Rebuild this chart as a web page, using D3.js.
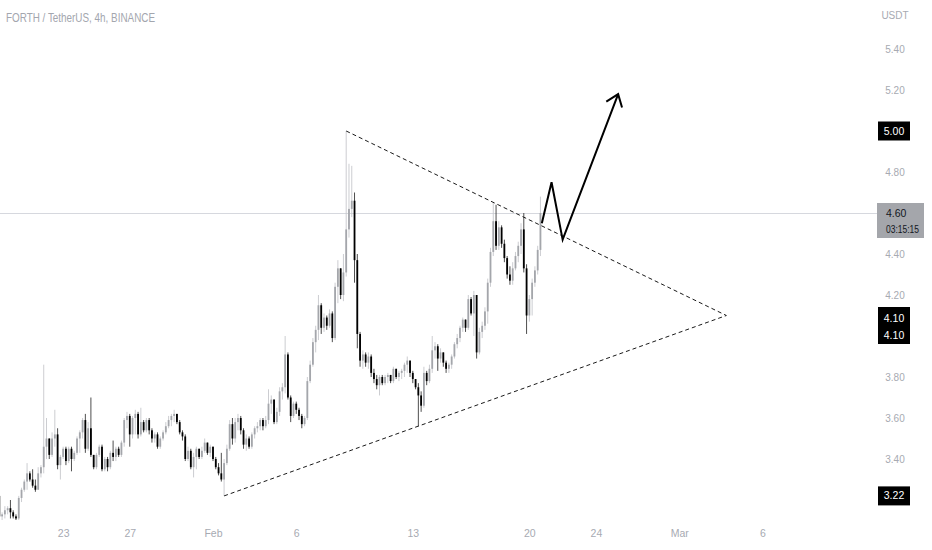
<!DOCTYPE html>
<html>
<head>
<meta charset="utf-8">
<title>FORTH / TetherUS, 4h</title>
<script src="https://cdn.jsdelivr.net/npm/d3@7"></script>
<style>
    html, body { margin: 0; padding: 0; background: #ffffff; }
    svg { display: block; font-family: "Liberation Sans", Arial, sans-serif; }
</style>
</head>
<body>
<svg id="chart" width="932" height="550"></svg>
<script>

// 4h candles, first one opens Jan 19 04:00 UTC, open = previous close
var t0 = Date.UTC(2023, 0, 19, 4);
var step = 4 * 3600 * 1000;
var firstOpen = 3.22;

var closes = [
    3.12, 3.13, 3.15, 3.16, 3.14, 3.12, 3.11, 3.21, 3.25, 3.29,
    3.33, 3.30, 3.27, 3.25, 3.33, 3.36, 3.46, 3.50, 3.42, 3.50,
    3.52, 3.37, 3.41, 3.45, 3.39, 3.45, 3.40, 3.43, 3.50, 3.53,
    3.59, 3.45, 3.55, 3.42, 3.36, 3.42, 3.46, 3.35, 3.40, 3.36,
    3.43, 3.41, 3.45, 3.42, 3.48, 3.59, 3.61, 3.52, 3.60, 3.62,
    3.52, 3.58, 3.54, 3.59, 3.54, 3.50, 3.52, 3.46, 3.50, 3.53,
    3.56, 3.59, 3.61, 3.62, 3.58, 3.53, 3.51, 3.40, 3.44, 3.36,
    3.41, 3.45, 3.41, 3.44, 3.48, 3.43, 3.46, 3.40, 3.36, 3.33,
    3.30, 3.38, 3.45, 3.57, 3.50, 3.58, 3.60, 3.54, 3.47, 3.50,
    3.46, 3.52, 3.55, 3.56, 3.59, 3.56, 3.59, 3.67, 3.69, 3.58,
    3.63, 3.73, 3.75, 3.91, 3.70, 3.61, 3.67, 3.64, 3.61, 3.57,
    3.60, 3.78, 3.86, 3.97, 4.03, 4.15, 4.04, 4.09, 4.05, 4.11,
    3.99, 4.24, 4.33, 4.20, 4.31, 4.52, 4.62, 4.66, 4.37, 4.01,
    3.88, 3.91, 3.87, 3.90, 3.82, 3.79, 3.76, 3.80, 3.77, 3.80,
    3.81, 3.78, 3.84, 3.80, 3.82, 3.83, 3.86, 3.88, 3.82, 3.79,
    3.75, 3.71, 3.66, 3.82, 3.78, 3.84, 3.93, 3.95, 3.89, 3.92,
    3.87, 3.84, 3.86, 3.90, 3.96, 3.99, 4.04, 4.08, 4.04, 4.18,
    4.11, 4.20, 3.92, 4.02, 4.05, 4.12, 4.26, 4.41, 4.56, 4.44,
    4.53, 4.45, 4.38, 4.30, 4.27, 4.33, 4.39, 4.44, 4.52, 4.33,
    4.10, 4.18, 4.26, 4.32, 4.42, 4.60
];

var highs = [
    3.23, 3.14, 3.17, 3.17, 3.20, 3.15, 3.13, 3.22, 3.26, 3.30,
    3.38, 3.34, 3.35, 3.30, 3.36, 3.37, 3.86, 3.60, 3.50, 3.53,
    3.64, 3.55, 3.42, 3.46, 3.46, 3.46, 3.46, 3.44, 3.51, 3.54,
    3.60, 3.62, 3.58, 3.70, 3.42, 3.43, 3.47, 3.47, 3.41, 3.41,
    3.44, 3.49, 3.46, 3.46, 3.49, 3.60, 3.63, 3.62, 3.61, 3.64,
    3.63, 3.65, 3.59, 3.60, 3.60, 3.55, 3.53, 3.53, 3.51, 3.54,
    3.58, 3.61, 3.62, 3.64, 3.62, 3.59, 3.54, 3.52, 3.46, 3.45,
    3.43, 3.46, 3.45, 3.46, 3.50, 3.48, 3.47, 3.46, 3.41, 3.38,
    3.43, 3.40, 3.47, 3.59, 3.60, 3.60, 3.62, 3.61, 3.55, 3.52,
    3.51, 3.53, 3.56, 3.58, 3.60, 3.60, 3.61, 3.74, 3.71, 3.69,
    3.65, 3.75, 3.77, 4.00, 3.92, 3.71, 3.68, 3.68, 3.65, 3.62,
    3.61, 3.80, 3.88, 3.99, 4.05, 4.20, 4.16, 4.11, 4.10, 4.13,
    4.12, 4.26, 4.37, 4.33, 4.40, 5.00, 4.84, 4.83, 4.70, 4.40,
    4.02, 3.93, 3.92, 3.92, 3.91, 3.84, 3.81, 3.81, 3.81, 3.81,
    3.82, 3.81, 3.85, 3.84, 3.83, 3.84, 3.87, 3.90, 3.88, 3.83,
    3.79, 3.77, 3.73, 3.85, 3.83, 3.86, 4.00, 3.97, 3.96, 3.94,
    3.92, 3.88, 3.87, 3.91, 3.97, 4.01, 4.05, 4.09, 4.08, 4.20,
    4.19, 4.22, 4.20, 4.04, 4.07, 4.14, 4.28, 4.43, 4.65, 4.64,
    4.56, 4.54, 4.47, 4.39, 4.34, 4.36, 4.41, 4.46, 4.55, 4.60,
    4.35, 4.20, 4.28, 4.34, 4.44, 4.68
];

var lows = [
    3.10, 3.10, 3.11, 3.13, 3.11, 3.11, 3.10, 3.10, 3.19, 3.24,
    3.25, 3.29, 3.26, 3.24, 3.25, 3.31, 3.33, 3.40, 3.40, 3.41,
    3.46, 3.35, 3.30, 3.40, 3.37, 3.38, 3.34, 3.39, 3.42, 3.43,
    3.50, 3.43, 3.44, 3.41, 3.35, 3.35, 3.41, 3.34, 3.34, 3.34,
    3.35, 3.39, 3.39, 3.41, 3.41, 3.46, 3.55, 3.46, 3.50, 3.52,
    3.50, 3.51, 3.53, 3.53, 3.52, 3.48, 3.48, 3.45, 3.45, 3.49,
    3.52, 3.55, 3.56, 3.58, 3.57, 3.52, 3.49, 3.39, 3.39, 3.35,
    3.31, 3.35, 3.40, 3.40, 3.43, 3.42, 3.41, 3.39, 3.35, 3.32,
    3.29, 3.22, 3.37, 3.44, 3.47, 3.48, 3.54, 3.52, 3.45, 3.44,
    3.45, 3.45, 3.50, 3.53, 3.54, 3.54, 3.55, 3.57, 3.62, 3.57,
    3.57, 3.61, 3.69, 3.72, 3.69, 3.58, 3.60, 3.62, 3.59, 3.55,
    3.56, 3.59, 3.77, 3.85, 3.92, 3.98, 4.01, 4.02, 4.03, 4.04,
    3.97, 3.98, 4.16, 4.18, 4.17, 4.29, 4.48, 4.58, 4.26, 3.94,
    3.85, 3.84, 3.85, 3.84, 3.80, 3.77, 3.74, 3.71, 3.76, 3.76,
    3.77, 3.77, 3.77, 3.79, 3.78, 3.79, 3.80, 3.82, 3.80, 3.77,
    3.74, 3.56, 3.63, 3.65, 3.76, 3.77, 3.82, 3.89, 3.83, 3.87,
    3.85, 3.82, 3.82, 3.84, 3.89, 3.94, 3.97, 4.02, 4.02, 4.03,
    4.10, 4.00, 3.89, 3.91, 3.99, 4.03, 4.06, 4.24, 4.39, 4.42,
    4.42, 4.43, 4.36, 4.28, 4.25, 4.25, 4.32, 4.36, 4.40, 4.31,
    4.01, 4.07, 4.10, 4.24, 4.30, 4.39
];

// only the scale ticks that are not covered by a price label
var priceTicks = [3.40, 3.60, 3.80, 4.20, 4.40, 4.80, 5.20, 5.40];
var dateTicks = [
    Date.UTC(2023, 0, 23), Date.UTC(2023, 0, 27), Date.UTC(2023, 1, 1),
    Date.UTC(2023, 1, 6), Date.UTC(2023, 1, 13), Date.UTC(2023, 1, 20),
    Date.UTC(2023, 1, 24), Date.UTC(2023, 2, 1), Date.UTC(2023, 2, 6)
];
var monthNames = ["Jan", "Feb", "Mar"];

// drawings
var apexTime = Date.UTC(2023, 2, 3, 20);
var upperTrend = [{ t: t0 + 125 * step, p: 5.00 }, { t: apexTime, p: 4.10 }];
var lowerTrend = [{ t: t0 + 81 * step, p: 3.22 }, { t: apexTime, p: 4.10 }];
var projection = [
    { t: Date.UTC(2023, 1, 20, 18), p: 4.55 },
    { t: Date.UTC(2023, 1, 21, 8), p: 4.75 },
    { t: Date.UTC(2023, 1, 22, 0), p: 4.47 },
    { t: Date.UTC(2023, 1, 25, 8), p: 5.18 }
];

var lastPrice = 4.60;
var countdown = "03:15:15";
var markerLabels = [5.00, 3.22];
var apexLabels = [4.10, 4.10];

var candles = closes.map(function(c, i) {
    return {
        t: t0 + i * step,
        o: i === 0 ? firstOpen : closes[i - 1],
        h: highs[i],
        l: lows[i],
        c: c
    };
});

var plotRight = 877;

var svg = d3.select("#chart");

var xScale = d3.scaleUtc()
    .domain([Date.UTC(2023, 0, 19), Date.UTC(2023, 2, 8)])
    .range([-3.45, 795.75]);

var yScale = d3.scaleLinear()
    .domain([3.0, 5.6])
    .range([541, 8]);

svg.append("defs").append("clipPath")
    .attr("id", "plotClip")
    .append("rect")
    .attr("x", 0).attr("y", 0)
    .attr("width", plotRight).attr("height", 520);

var plot = svg.append("g").attr("clip-path", "url(#plotClip)");

// last price line
plot.append("line")
    .attr("x1", 0)
    .attr("x2", plotRight)
    .attr("y1", Math.round(yScale(lastPrice)) + 0.5)
    .attr("y2", Math.round(yScale(lastPrice)) + 0.5)
    .attr("stroke", "#d6d8de")
    .attr("stroke-width", 1);

var bodyW = 1.8;

var candleG = plot.append("g").attr("class", "candles");

candleG.selectAll("line.wick")
    .data(candles)
    .join("line")
    .attr("class", "wick")
    .attr("x1", function(d) { return xScale(d.t); })
    .attr("x2", function(d) { return xScale(d.t); })
    .attr("y1", function(d) { return yScale(d.h); })
    .attr("y2", function(d) { return yScale(d.l); })
    .attr("stroke", function(d) { return d.c >= d.o ? "#c6c7cc" : "#3a3a3a"; })
    .attr("stroke-width", 0.9);

candleG.selectAll("rect.body")
    .data(candles)
    .join("rect")
    .attr("class", "body")
    .attr("x", function(d) { return xScale(d.t) - bodyW / 2; })
    .attr("y", function(d) { return yScale(Math.max(d.o, d.c)); })
    .attr("width", bodyW)
    .attr("height", function(d) {
        return Math.max(1, Math.abs(yScale(d.o) - yScale(d.c)));
    })
    .attr("fill", function(d) { return d.c >= d.o ? "#a4a6ab" : "#000000"; });

// triangle
var trendLine = d3.line()
    .x(function(d) { return xScale(d.t); })
    .y(function(d) { return yScale(d.p); });

[upperTrend, lowerTrend].forEach(function(tl) {
    plot.append("path")
        .attr("d", trendLine(tl))
        .attr("fill", "none")
        .attr("stroke", "#1a1a1a")
        .attr("stroke-width", 1)
        .attr("stroke-dasharray", "4,3");
});

// projected path with arrow head
plot.append("path")
    .attr("d", trendLine(projection))
    .attr("fill", "none")
    .attr("stroke", "#000")
    .attr("stroke-width", 2)
    .attr("stroke-linejoin", "miter");

var tip = projection[projection.length - 1];
var prev = projection[projection.length - 2];
var tx = xScale(tip.t), ty = yScale(tip.p);
var back = Math.atan2(yScale(prev.p) - ty, xScale(prev.t) - tx);
var headLen = 14, headAng = 37 * Math.PI / 180;
var head = [
    [tx + headLen * Math.cos(back + headAng), ty + headLen * Math.sin(back + headAng)],
    [tx, ty],
    [tx + headLen * Math.cos(back - headAng), ty + headLen * Math.sin(back - headAng)]
];
plot.append("path")
    .attr("d", d3.line()(head))
    .attr("fill", "none")
    .attr("stroke", "#000")
    .attr("stroke-width", 2)
    .attr("stroke-linejoin", "miter");

// title
svg.append("text")
    .attr("x", 6)
    .attr("y", 22)
    .attr("font-size", 13)
    .attr("fill", "#a3a6ae")
    .attr("textLength", 149)
    .attr("lengthAdjust", "spacingAndGlyphs")
    .text("FORTH / TetherUS, 4h, BINANCE");

// time axis
var xAxis = d3.axisBottom(xScale)
    .tickValues(dateTicks.map(function(d) { return new Date(d); }))
    .tickSize(0)
    .tickPadding(0)
    .tickFormat(function(d) {
        return d.getUTCDate() === 1 ? monthNames[d.getUTCMonth()] : d.getUTCDate();
    });

var xAxisG = svg.append("g")
    .attr("transform", "translate(0,530)")
    .call(xAxis);
xAxisG.select(".domain").remove();
xAxisG.selectAll("text")
    .attr("font-size", 10.5)
    .attr("font-family", "Liberation Sans, Arial, sans-serif")
    .attr("fill", "#a7aab2");

// price axis
var yAxis = d3.axisRight(yScale)
    .tickValues(priceTicks)
    .tickSize(0)
    .tickPadding(0)
    .tickFormat(d3.format(".2f"));

var yAxisG = svg.append("g")
    .attr("transform", "translate(895,0)")
    .call(yAxis);
yAxisG.select(".domain").remove();
yAxisG.selectAll("text")
    .attr("text-anchor", "middle")
    .attr("font-size", 10)
    .attr("font-family", "Liberation Sans, Arial, sans-serif")
    .attr("fill", "#a7aab2");

svg.append("text")
    .attr("x", 895)
    .attr("y", 19)
    .attr("text-anchor", "middle")
    .attr("font-size", 10)
    .attr("fill", "#a7aab2")
    .text("USDT");

// price labels on the scale
markerLabels.forEach(function(p) {
    var cy = yScale(p);
    svg.append("rect")
        .attr("x", 878).attr("y", cy - 9.5)
        .attr("width", 32).attr("height", 19)
        .attr("fill", "#000");
    svg.append("text")
        .attr("x", 894).attr("y", cy + 3.5)
        .attr("text-anchor", "middle")
        .attr("font-size", 10.5)
        .attr("fill", "#fff")
        .text(d3.format(".2f")(p));
});

var apexY = yScale(apexLabels[0]);
svg.append("rect")
    .attr("x", 878).attr("y", apexY - 8.5)
    .attr("width", 32).attr("height", 37)
    .attr("fill", "#000");
apexLabels.forEach(function(p, i) {
    svg.append("text")
        .attr("x", 894).attr("y", apexY + 6.5 + i * 17)
        .attr("text-anchor", "middle")
        .attr("font-size", 10.5)
        .attr("fill", "#fff")
        .text(d3.format(".2f")(p));
});

var lastY = yScale(lastPrice);
svg.append("rect")
    .attr("x", 877).attr("y", lastY - 10)
    .attr("width", 47).attr("height", 35)
    .attr("fill", "#a4a6ab");
svg.append("text")
    .attr("x", 886).attr("y", lastY + 4)
    .attr("font-size", 10.5)
    .attr("fill", "#131722")
    .text(d3.format(".2f")(lastPrice));
svg.append("text")
    .attr("x", 886).attr("y", lastY + 20)
    .attr("font-size", 10.5)
    .attr("fill", "#131722")
    .attr("textLength", 33)
    .attr("lengthAdjust", "spacingAndGlyphs")
    .text(countdown);

</script>
</body>
</html>
